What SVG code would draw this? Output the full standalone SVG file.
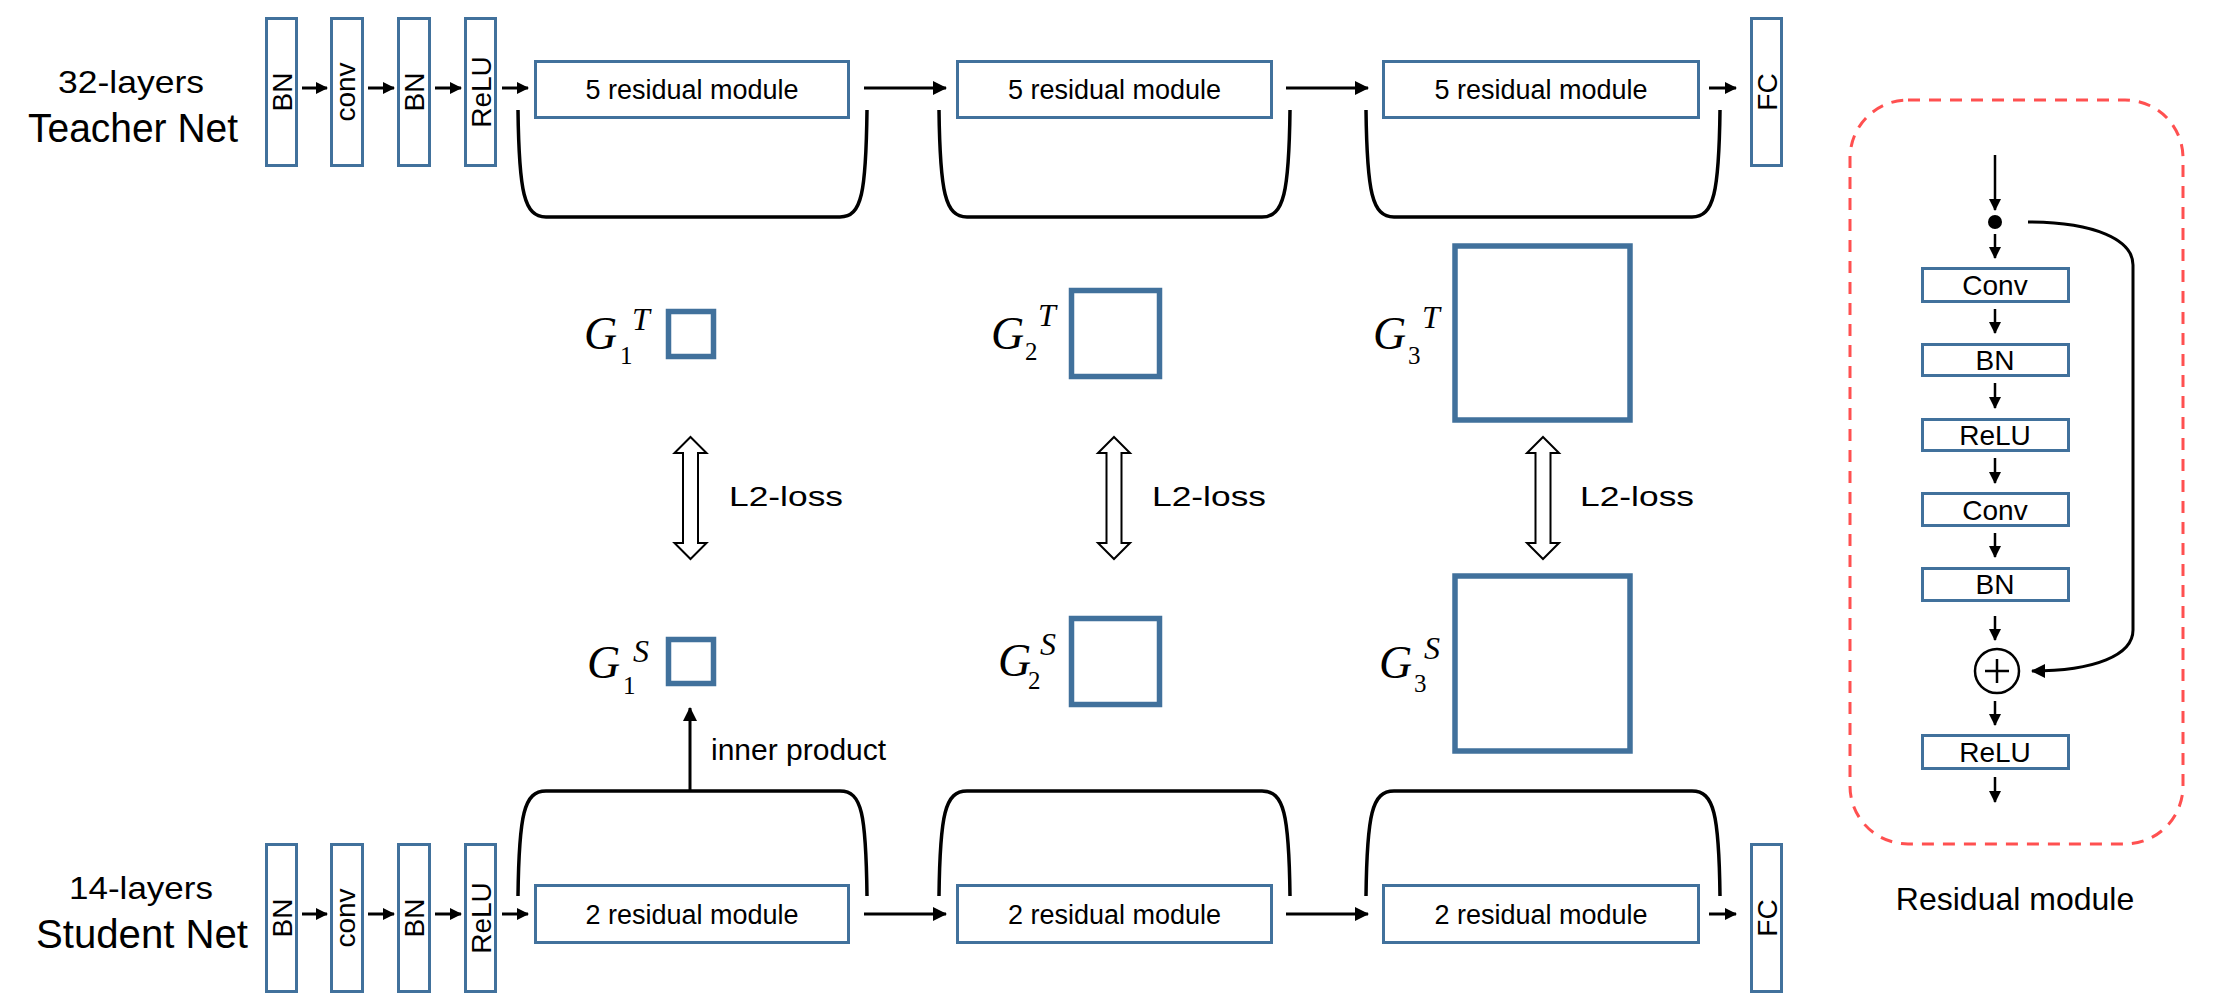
<svg xmlns="http://www.w3.org/2000/svg" width="2218" height="1008" viewBox="0 0 2218 1008">
<style>
.box{fill:#fff;stroke:#41719C;stroke-width:3}
.gram{fill:none;stroke:#41719C;stroke-width:5.5}
.t{font-family:"Liberation Sans",Arial,sans-serif;fill:#000}
.m{font-family:"Liberation Serif","Times New Roman",serif;fill:#000}
.g{font-size:46px;font-style:italic}
.sup{font-size:32px;font-style:italic}
.sub{font-size:25px}
.ln{stroke:#000;stroke-width:3;fill:none}
.br{stroke:#000;stroke-width:3.5;fill:none}
.dbl{fill:#fff;stroke:#000;stroke-width:2}
</style>
<defs>
<marker id="ah" markerWidth="14" markerHeight="14" refX="13" refY="7" orient="auto" markerUnits="userSpaceOnUse"><path d="M0,0 L14,7 L0,14 Z" fill="#000"/></marker>
<marker id="as" markerWidth="12" markerHeight="12" refX="11" refY="6" orient="auto" markerUnits="userSpaceOnUse"><path d="M0,0 L12,6 L0,12 Z" fill="#000"/></marker>
</defs>
<rect width="2218" height="1008" fill="#fff"/>

<g id="teacher-label">
<text class="t" x="131" y="93" font-size="32" text-anchor="middle" textLength="146" lengthAdjust="spacingAndGlyphs">32-layers</text>
<text class="t" x="133" y="142" font-size="40" text-anchor="middle" textLength="210" lengthAdjust="spacingAndGlyphs">Teacher Net</text>
</g>
<g id="student-label">
<text class="t" x="141" y="899" font-size="32" text-anchor="middle" textLength="144" lengthAdjust="spacingAndGlyphs">14-layers</text>
<text class="t" x="142" y="948" font-size="40" text-anchor="middle" textLength="212" lengthAdjust="spacingAndGlyphs">Student Net</text>
</g>

<g id="t-bn1"><rect class="box" x="266.5" y="18.5" width="30" height="147"/><text class="t" font-size="28" text-anchor="middle" transform="translate(291.5,92) rotate(-90)">BN</text></g>
<g id="t-conv"><rect class="box" x="331.5" y="18.5" width="31" height="147"/><text class="t" font-size="28" text-anchor="middle" transform="translate(355,92) rotate(-90)">conv</text></g>
<g id="t-bn2"><rect class="box" x="398.5" y="18.5" width="31" height="147"/><text class="t" font-size="28" text-anchor="middle" transform="translate(424,92) rotate(-90)">BN</text></g>
<g id="t-relu"><rect class="box" x="465.5" y="18.5" width="30" height="147"/><text class="t" font-size="28" text-anchor="middle" transform="translate(490.5,92) rotate(-90)">ReLU</text></g>
<g id="t-res1"><rect class="box" x="535.5" y="61.5" width="313" height="56"/><text class="t" x="692" y="99" font-size="27" text-anchor="middle">5 residual module</text></g>
<g id="t-res2"><rect class="box" x="957.5" y="61.5" width="314" height="56"/><text class="t" x="1114.5" y="99" font-size="27" text-anchor="middle">5 residual module</text></g>
<g id="t-res3"><rect class="box" x="1383.5" y="61.5" width="315" height="56"/><text class="t" x="1541" y="99" font-size="27" text-anchor="middle">5 residual module</text></g>
<g id="t-fc"><rect class="box" x="1751.5" y="18.5" width="30" height="147"/><text class="t" font-size="28" text-anchor="middle" transform="translate(1776.5,92) rotate(-90)">FC</text></g>

<g id="s-bn1"><rect class="box" x="266.5" y="844.5" width="30" height="147"/><text class="t" font-size="28" text-anchor="middle" transform="translate(291.5,918) rotate(-90)">BN</text></g>
<g id="s-conv"><rect class="box" x="331.5" y="844.5" width="31" height="147"/><text class="t" font-size="28" text-anchor="middle" transform="translate(355,918) rotate(-90)">conv</text></g>
<g id="s-bn2"><rect class="box" x="398.5" y="844.5" width="31" height="147"/><text class="t" font-size="28" text-anchor="middle" transform="translate(424,918) rotate(-90)">BN</text></g>
<g id="s-relu"><rect class="box" x="465.5" y="844.5" width="30" height="147"/><text class="t" font-size="28" text-anchor="middle" transform="translate(490.5,918) rotate(-90)">ReLU</text></g>
<g id="s-res1"><rect class="box" x="535.5" y="885.5" width="313" height="57"/><text class="t" x="692" y="924" font-size="27" text-anchor="middle">2 residual module</text></g>
<g id="s-res2"><rect class="box" x="957.5" y="885.5" width="314" height="57"/><text class="t" x="1114.5" y="924" font-size="27" text-anchor="middle">2 residual module</text></g>
<g id="s-res3"><rect class="box" x="1383.5" y="885.5" width="315" height="57"/><text class="t" x="1541" y="924" font-size="27" text-anchor="middle">2 residual module</text></g>
<g id="s-fc"><rect class="box" x="1751.5" y="844.5" width="30" height="147"/><text class="t" font-size="28" text-anchor="middle" transform="translate(1776.5,918) rotate(-90)">FC</text></g>

<g id="g1t"><rect class="gram" x="668.5" y="311.5" width="45" height="45"/>
<text class="m g" x="584" y="349">G</text><text class="m sub" x="620" y="364">1</text><text class="m sup" x="632" y="330">T</text></g>
<g id="g2t"><rect class="gram" x="1071.5" y="290.5" width="88" height="86"/>
<text class="m g" x="991" y="349">G</text><text class="m sub" x="1025" y="360">2</text><text class="m sup" x="1038" y="326">T</text></g>
<g id="g3t"><rect class="gram" x="1455" y="246" width="175" height="174"/>
<text class="m g" x="1373" y="349">G</text><text class="m sub" x="1408" y="364">3</text><text class="m sup" x="1422" y="328">T</text></g>
<g id="g1s"><rect class="gram" x="668.5" y="639.5" width="45" height="44"/>
<text class="m g" x="587" y="678">G</text><text class="m sub" x="623" y="694">1</text><text class="m sup" x="633" y="662">S</text></g>
<g id="g2s"><rect class="gram" x="1071.5" y="618.5" width="88" height="86"/>
<text class="m g" x="998" y="676">G</text><text class="m sub" x="1028" y="689">2</text><text class="m sup" x="1040" y="655">S</text></g>
<g id="g3s"><rect class="gram" x="1455" y="576" width="175" height="175"/>
<text class="m g" x="1379" y="678">G</text><text class="m sub" x="1414" y="692">3</text><text class="m sup" x="1424" y="659">S</text></g>

<g id="loss1"><polygon class="dbl" points="690.5,437 706.5,453 698,453 698,543 706.5,543 690.5,559 674.5,543 683,543 683,453 674.5,453"/><text class="t" x="729" y="506" font-size="28" textLength="114" lengthAdjust="spacingAndGlyphs">L2-loss</text></g>
<g id="loss2"><polygon class="dbl" points="1114,437 1130,453 1121.5,453 1121.5,543 1130,543 1114,559 1098,543 1106.5,543 1106.5,453 1098,453"/><text class="t" x="1152" y="506" font-size="28" textLength="114" lengthAdjust="spacingAndGlyphs">L2-loss</text></g>
<g id="loss3"><polygon class="dbl" points="1543,437 1559,453 1550.5,453 1550.5,543 1559,543 1543,559 1527,543 1535.5,543 1535.5,453 1527,453"/><text class="t" x="1580" y="506" font-size="28" textLength="114" lengthAdjust="spacingAndGlyphs">L2-loss</text></g>

<g id="inner-product-label"><text class="t" x="711" y="760" font-size="30">inner product</text></g>

<g id="residual-module">
<rect x="1850" y="100" width="333" height="744" rx="58" fill="none" stroke="#FF5050" stroke-width="3" stroke-dasharray="12 9"/>
<g id="rm-conv1"><rect class="box" x="1922.5" y="268.5" width="146" height="33"/><text class="t" x="1995" y="295" font-size="28" text-anchor="middle">Conv</text></g>
<g id="rm-bn1"><rect class="box" x="1922.5" y="344.5" width="146" height="31"/><text class="t" x="1995" y="370" font-size="28" text-anchor="middle">BN</text></g>
<g id="rm-relu1"><rect class="box" x="1922.5" y="419.5" width="146" height="31"/><text class="t" x="1995" y="445" font-size="28" text-anchor="middle">ReLU</text></g>
<g id="rm-conv2"><rect class="box" x="1922.5" y="493.5" width="146" height="32"/><text class="t" x="1995" y="520" font-size="28" text-anchor="middle">Conv</text></g>
<g id="rm-bn2"><rect class="box" x="1922.5" y="568.5" width="146" height="32"/><text class="t" x="1995" y="594" font-size="28" text-anchor="middle">BN</text></g>
<g id="rm-add"><circle cx="1997" cy="671" r="22" fill="none" stroke="#000" stroke-width="2.5"/><path d="M1985,671 H2009 M1997,659 V683" stroke="#000" stroke-width="2.5"/></g>
<g id="rm-relu2"><rect class="box" x="1922.5" y="735.5" width="146" height="33"/><text class="t" x="1995" y="762" font-size="28" text-anchor="middle">ReLU</text></g>
<g id="rm-split"><circle cx="1995" cy="222" r="7" fill="#000"/></g>
<text class="t" x="2015" y="910" font-size="32" text-anchor="middle">Residual module</text>
</g>

<g id="connectors">
<g marker-end="url(#as)" class="ln">
<line x1="302" y1="88" x2="327" y2="88"/><line x1="368" y1="88" x2="394" y2="88"/><line x1="435" y1="88" x2="461" y2="88"/><line x1="502" y1="88" x2="528" y2="88"/><line x1="1709" y1="88" x2="1736" y2="88"/>
<line x1="302" y1="914" x2="327" y2="914"/><line x1="368" y1="914" x2="394" y2="914"/><line x1="435" y1="914" x2="461" y2="914"/><line x1="502" y1="914" x2="528" y2="914"/><line x1="1709" y1="914" x2="1736" y2="914"/>
</g>
<g marker-end="url(#ah)" class="ln">
<line x1="864" y1="88" x2="946" y2="88"/><line x1="1286" y1="88" x2="1368" y2="88"/>
<line x1="864" y1="914" x2="946" y2="914"/><line x1="1286" y1="914" x2="1368" y2="914"/>
<line x1="690" y1="791" x2="690" y2="708"/>
</g>
<path class="br" d="M518,110 C519,192 524,217 546,217 L840,217 C862,217 866,192 867,110"/>
<path class="br" d="M939,110 C940,192 945,217 967,217 L1262,217 C1284,217 1289,192 1290,110"/>
<path class="br" d="M1366,110 C1367,192 1372,217 1394,217 L1692,217 C1714,217 1719,192 1720,110"/>
<path class="br" d="M518,896 C519,814 524,791 546,791 L840,791 C862,791 866,814 867,896"/>
<path class="br" d="M939,896 C940,814 945,791 967,791 L1262,791 C1284,791 1289,814 1290,896"/>
<path class="br" d="M1366,896 C1367,814 1372,791 1394,791 L1692,791 C1714,791 1719,814 1720,896"/>
<g marker-end="url(#as)" stroke="#000" stroke-width="2.5" fill="none">
<line x1="1995" y1="155" x2="1995" y2="210"/>
<line x1="1995" y1="234" x2="1995" y2="258"/>
<line x1="1995" y1="309" x2="1995" y2="333"/>
<line x1="1995" y1="383" x2="1995" y2="408"/>
<line x1="1995" y1="458" x2="1995" y2="483"/>
<line x1="1995" y1="533" x2="1995" y2="557"/>
<line x1="1995" y1="616" x2="1995" y2="640"/>
<line x1="1995" y1="701" x2="1995" y2="725"/>
<line x1="1995" y1="777" x2="1995" y2="802"/>
</g>
<path d="M2028,222 C2095,222 2133,240 2133,265 L2133,630 C2133,655 2095,671 2032,671" stroke="#000" stroke-width="3" fill="none" marker-end="url(#ah)"/>
</g>
</svg>
